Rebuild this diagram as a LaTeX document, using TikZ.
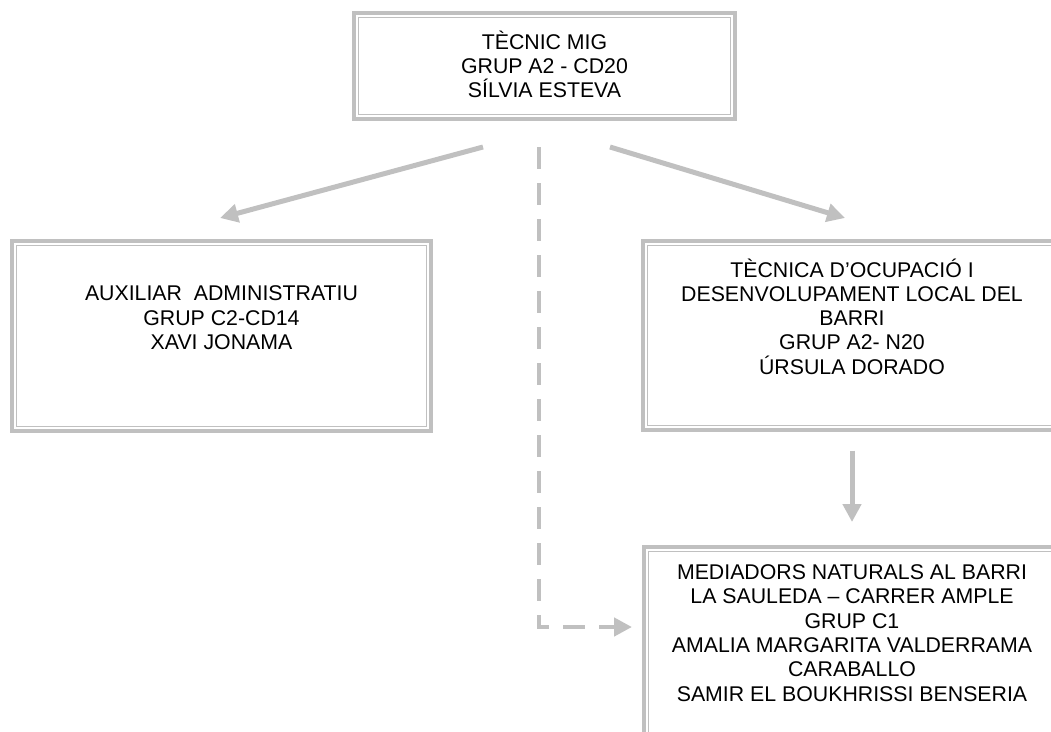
\documentclass[tikz,border=0pt]{standalone}
\usepackage{fontspec}
\setmainfont{Liberation Sans}
\usetikzlibrary{arrows.meta}
\definecolor{framegray}{HTML}{C0C0C0}

\begin{document}
\begin{tikzpicture}[x=1pt, y=-1pt,
        box/.style={draw=framegray, line width=4pt, inner sep=0pt, outer sep=0pt},
        innerframe/.style={draw=framegray, line width=1.5pt},
        txt/.style={align=center, inner sep=0pt, font=\fontsize{21.3}{24.3}\selectfont},
        link/.style={draw=framegray, line width=5pt, -{Triangle[length=18pt,width=18pt]}},
        dashlink/.style={link, line width=4.5pt, dash pattern=on 22pt off 14pt}]

                \useasboundingbox (0,0) rectangle (1051,731);
                \clip (0,0) rectangle (1051,731);

                \node [box, minimum width=381pt, minimum height=106pt] (tecnic) at (544.5,66) {};
                \node [box, minimum width=419pt, minimum height=190pt] (aux) at (221.5,336) {};
                \node [box, minimum width=418pt, minimum height=189pt] (tecnica) at (852,335.5) {};
                \node [box, minimum width=416pt, minimum height=253pt] (mediadors) at (852,673.5) {};
                \foreach \b in {tecnic,aux,tecnica,mediadors}
                    \draw [innerframe] ([shift={(4.45,4.45)}]\b.north west) rectangle ([shift={(-4.45,-4.45)}]\b.south east);

                \node [txt] (tecnictxt) at (544.5,64.5) {TÈCNIC MIG\\GRUP A2 - CD20\\SÍLVIA ESTEVA};
                \node [txt] (auxtxt) at (221.5,317.7) {AUXILIAR~ ADMINISTRATIU\\GRUP C2-CD14\\XAVI JONAMA};
                \node [txt] (tecnicatxt) at (852,316.5) {TÈCNICA D’OCUPACIÓ I\\DESENVOLUPAMENT LOCAL DEL\\BARRI\\GRUP A2- N20\\ÚRSULA DORADO};
                \node [txt] (mediadorstxt) at (852,633) {MEDIADORS NATURALS AL BARRI\\LA SAULEDA – CARRER AMPLE\\GRUP C1\\AMALIA MARGARITA VALDERRAMA\\CARABALLO\\SAMIR EL BOUKHRISSI BENSERIA};

                \draw [link] ([shift={(-61.5,28)}]tecnic.south) -- ([shift={(-1.5,-23)}]aux.north);
                \draw [link] ([shift={(65.5,28)}]tecnic.south) -- ([shift={(-7,-23)}]tecnica.north);
                \draw [link] ([shift={(0,20.5)}]tecnica.south) -- ([shift={(0,-25)}]mediadors.north);
                \draw [dashlink] ([shift={(-5.5,28)}]tecnic.south) |- ([shift={(-12,80)}]mediadors.north west);
            \end{tikzpicture}
\end{document}
